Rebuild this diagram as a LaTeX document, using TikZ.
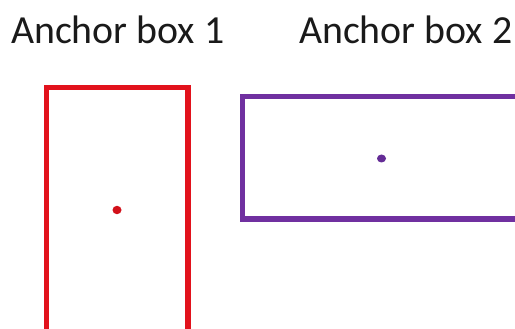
\documentclass[tikz,border=0pt]{standalone}
\usepackage{fontspec}
\setmainfont{Carlito}
\definecolor{boxred}{RGB}{226,18,28}
\definecolor{dotred}{RGB}{210,16,26}
\definecolor{boxpurple}{RGB}{112,48,160}
\definecolor{dotpurple}{RGB}{100,44,150}
\definecolor{txt}{RGB}{26,26,26}
\tikzset{
  title/.style={anchor=base west, inner sep=0pt, text=txt, font=\fontsize{39.8pt}{42pt}\selectfont},
  anchorbox/.style={line width=5.2pt, fill=white},
  centredot/.style={fill, draw=none},
}
\begin{document}
\begin{tikzpicture}[x=1pt,y=-1pt]
\useasboundingbox (0,0) rectangle (515,329);
\clip (0,0) rectangle (515,329);
\fill[white] (0,0) rectangle (515,329);
\node[title] (t1) at (11,43.3) {Anchor box 1};
\node[title] (t2) at (299,43.3) {Anchor box 2};
\draw[anchorbox, draw=boxred] (46.5,87.5) rectangle (188,345);
\draw[anchorbox, draw=boxpurple] (242.5,96.5) rectangle (540,219);
\fill[centredot, dotred] (117,210) ellipse [x radius=4.5pt, y radius=4.2pt];
\fill[centredot, dotpurple] (381.5,158.5) ellipse [x radius=4.5pt, y radius=4pt];
\end{tikzpicture}
\end{document}
